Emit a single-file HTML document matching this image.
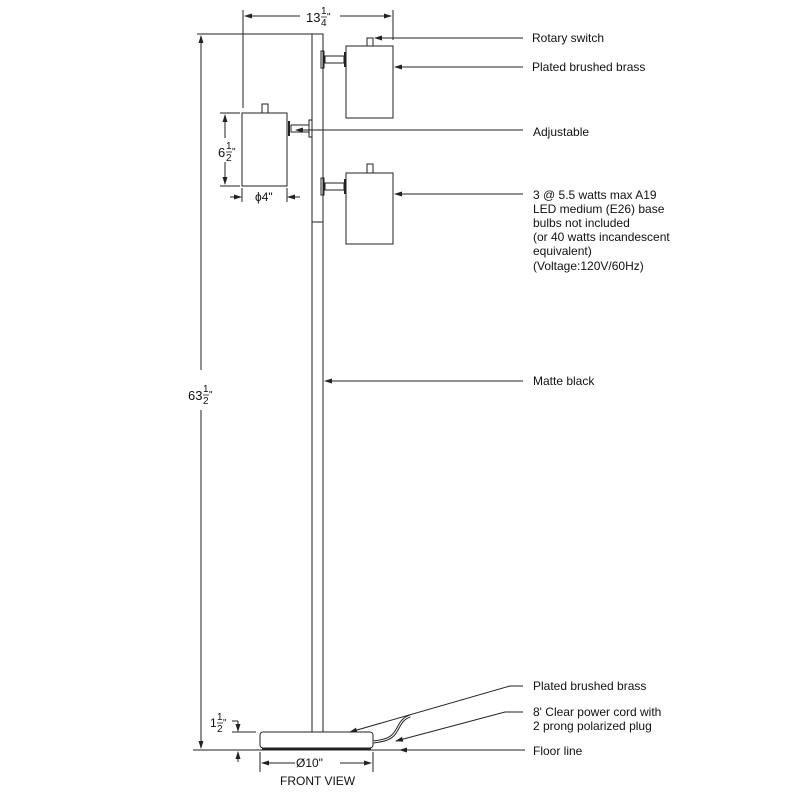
<!DOCTYPE html>
<html><head><style>
html,body{margin:0;padding:0;background:#fff}
svg{display:block}
text{font-family:"Liberation Sans",Arial,sans-serif;fill:#111}
</style></head><body>
<svg width="800" height="800" viewBox="0 0 800 800" xmlns="http://www.w3.org/2000/svg">
<defs>
<marker id="a" markerWidth="8" markerHeight="6" refX="7" refY="3" orient="auto" markerUnits="userSpaceOnUse"><path d="M0,0.5 L8,3 L0,5.5z" fill="#222"/></marker>
</defs>
<g stroke="#222" stroke-width="1" fill="none">
<rect x="312" y="34" width="11" height="698" fill="#fff"/>
<line x1="312" y1="222" x2="323" y2="222"/>
<line x1="243" y1="10" x2="243" y2="108"/>
<line x1="393" y1="10" x2="393" y2="40"/>
<line x1="300" y1="16" x2="245" y2="16" marker-end="url(#a)"/>
<line x1="340" y1="16" x2="391" y2="16" marker-end="url(#a)"/>
<line x1="197" y1="34" x2="312" y2="34"/>
<line x1="201" y1="370" x2="201" y2="36" marker-end="url(#a)"/>
<line x1="201" y1="410" x2="201" y2="748" marker-end="url(#a)"/>
<rect x="346" y="46" width="47" height="72" fill="#fff"/>
<rect x="367" y="38" width="6" height="8"/>
<rect x="321" y="51" width="3" height="17"/>
<rect x="325" y="56" width="19" height="7"/>
<line x1="345" y1="52" x2="345" y2="67" stroke-width="2"/>
<rect x="242" y="113" width="45" height="73" fill="#fff"/>
<rect x="262" y="104" width="6" height="9"/>
<rect x="309" y="120" width="3" height="17"/>
<rect x="291" y="125" width="18" height="7"/>
<line x1="289" y1="121" x2="289" y2="136" stroke-width="2"/>
<rect x="346" y="173" width="47" height="71" fill="#fff"/>
<rect x="367" y="164" width="6" height="9"/>
<rect x="321" y="178" width="3" height="17"/>
<rect x="325" y="183" width="19" height="7"/>
<line x1="345" y1="179" x2="345" y2="194" stroke-width="2"/>
<line x1="225" y1="138" x2="225" y2="115" marker-end="url(#a)"/>
<line x1="225" y1="162" x2="225" y2="184" marker-end="url(#a)"/>
<line x1="220" y1="113" x2="240" y2="113"/>
<line x1="220" y1="186" x2="240" y2="186"/>
<line x1="242" y1="188" x2="242" y2="202"/>
<line x1="287" y1="188" x2="287" y2="202"/>
<line x1="230" y1="197" x2="241" y2="197" marker-end="url(#a)"/>
<line x1="300" y1="197" x2="288" y2="197" marker-end="url(#a)"/>
<rect x="260" y="732" width="113" height="16" rx="3" fill="#fff"/>
<line x1="262" y1="749" x2="371" y2="749" stroke-width="2"/>
<path d="M373,742 C392,740 394,735 398,728 C402,720 405,718 410,716" stroke-width="3"/>
<path d="M373,742 C392,740 394,735 398,728 C402,720 405,718 410,716" stroke="#fff" stroke-width="1"/>
<line x1="193" y1="750" x2="525" y2="750"/>
<line x1="232" y1="732" x2="256" y2="732"/>
<line x1="232" y1="721" x2="238" y2="721"/>
<line x1="238" y1="721" x2="238" y2="731" marker-end="url(#a)"/>
<line x1="238" y1="762" x2="238" y2="752" marker-end="url(#a)"/>
<line x1="260" y1="752" x2="260" y2="772"/>
<line x1="373" y1="752" x2="373" y2="772"/>
<line x1="295" y1="763" x2="262" y2="763" marker-end="url(#a)"/>
<line x1="340" y1="763" x2="371" y2="763" marker-end="url(#a)"/>
<line x1="523" y1="38" x2="375" y2="38" marker-end="url(#a)"/>
<line x1="523" y1="67" x2="395" y2="67" marker-end="url(#a)"/>
<line x1="523" y1="130" x2="296" y2="130" marker-end="url(#a)"/>
<line x1="523" y1="194" x2="395" y2="194" marker-end="url(#a)"/>
<line x1="523" y1="381" x2="325" y2="381" marker-end="url(#a)"/>
<polyline points="523,686 510,686 350,732" marker-end="url(#a)"/>
<polyline points="523,712 505,712 396,741" marker-end="url(#a)"/>
<line x1="523" y1="750" x2="400" y2="750" marker-end="url(#a)"/>
<line x1="321" y1="17" x2="327" y2="17" stroke-width="0.8"/>
<line x1="226" y1="152" x2="232" y2="152" stroke-width="0.8"/>
<line x1="203" y1="395" x2="209" y2="395" stroke-width="0.8"/>
<line x1="217" y1="723" x2="223" y2="723" stroke-width="0.8"/>
</g>
<g font-size="12">
<text x="306" y="22" font-size="13">13</text><text x="321" y="14" font-size="10">1</text><text x="321" y="26" font-size="10">4</text><text x="327" y="20" font-size="10">"</text>
<text x="218" y="157" font-size="13">6</text><text x="226" y="149" font-size="10">1</text><text x="226" y="161" font-size="10">2</text><text x="232" y="155" font-size="10">"</text>
<text x="188" y="400" font-size="13">63</text><text x="203" y="392" font-size="10">1</text><text x="203" y="404" font-size="10">2</text><text x="209" y="398" font-size="10">"</text>
<text x="210" y="727" font-size="12">1</text><text x="217" y="720" font-size="10">1</text><text x="217" y="732" font-size="10">2</text><text x="223" y="726" font-size="10">"</text>
<text x="255" y="201">ϕ4"</text>
<text x="296" y="767">Ø10"</text>
<text x="280" y="785">FRONT VIEW</text>
<text x="532" y="42">Rotary switch</text>
<text x="532" y="71">Plated brushed brass</text>
<text x="533" y="136">Adjustable</text>
<text x="533" y="199">3 @ 5.5 watts max A19</text>
<text x="533" y="213">LED medium (E26) base</text>
<text x="533" y="227">bulbs not included</text>
<text x="533" y="241">(or 40 watts incandescent</text>
<text x="533" y="255">equivalent)</text>
<text x="533" y="270">(Voltage:120V/60Hz)</text>
<text x="533" y="385">Matte black</text>
<text x="533" y="690">Plated brushed brass</text>
<text x="533" y="716">8' Clear power cord with</text>
<text x="533" y="730">2 prong polarized plug</text>
<text x="533" y="755">Floor line</text>
</g>
</svg>
</body></html>
